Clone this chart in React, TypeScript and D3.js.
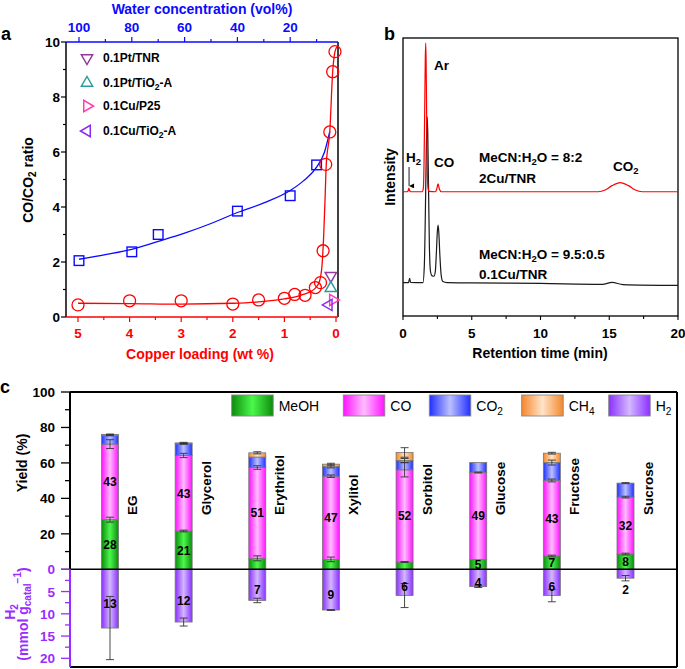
import React from 'react';
import * as d3 from 'd3';

const FONT = '"Liberation Sans", Arial, Helvetica, sans-serif';

// ---------- Panel a data ----------
const waterConc = [100, 80, 70, 40, 20, 10];
const waterRatio = [2.05, 2.37, 3.0, 3.85, 4.41, 5.53];
const waterFitX = [100, 90, 80, 70, 60, 50, 40, 30, 20, 15, 10, 7, 5];
const waterFitY = [2.1, 2.27, 2.46, 2.75, 3.05, 3.4, 3.8, 4.15, 4.6, 4.95, 5.45, 6.0, 6.75];
const copperLoad = [5, 4, 3, 2, 1.5, 1, 0.8, 0.6, 0.4, 0.3, 0.25, 0.2, 0.12, 0.065, 0.02];
const copperRatio = [0.44, 0.59, 0.59, 0.47, 0.62, 0.68, 0.82, 0.79, 1.07, 1.25, 2.41, 5.55, 6.73, 8.92, 9.65];
const copperFitX = [5, 4, 3, 2, 1.5, 1, 0.7, 0.5, 0.4, 0.32, 0.27, 0.24, 0.21, 0.19, 0.12, 0.065, 0.02, -0.02];
const copperFitY = [0.5, 0.49, 0.47, 0.5, 0.55, 0.66, 0.78, 0.92, 1.05, 1.3, 1.9, 2.9, 4.4, 5.5, 6.75, 8.9, 9.65, 9.83];
const refNames = ['0.1Pt/TNR', '0.1Pt/TiO2-A', '0.1Cu/P25', '0.1Cu/TiO2-A'];
const refLoad = [0.1, 0.1, 0.06, 0.14];
const refRatio = [1.5, 1.05, 0.62, 0.44];
const refColors = ['#94399c', '#2a9d9a', '#ff3cb4', '#8a2cf0'];
const refDirs = ['down', 'up', 'right', 'left'];

// ---------- Panel b data ----------
const redTime = [0, 0.3, 0.38, 0.43, 0.48, 0.56, 1.4, 1.48, 1.53, 1.58, 1.62, 1.65, 1.68, 1.72, 1.77, 1.82, 1.9, 2.35, 2.45, 2.55, 2.65, 2.78, 14.2, 14.7, 15.2, 15.8, 16.4, 16.9, 17.4, 20];
const redInt = [44.7, 44.7, 45.1, 46.0, 45.1, 44.7, 44.7, 46, 55, 75, 92, 98.2, 92, 72, 52, 46, 44.8, 44.7, 45.6, 47.5, 45.6, 44.7, 44.7, 45.3, 46.9, 48.0, 46.9, 45.3, 44.7, 44.7];
const blackTime = [0, 0.4, 0.48, 0.55, 1.45, 1.55, 1.62, 1.68, 1.73, 1.76, 1.8, 1.86, 1.92, 2.0, 2.1, 2.25, 2.35, 2.42, 2.5, 2.55, 2.6, 2.68, 2.78, 2.9, 3.2, 5, 10, 14.5, 15.2, 16.0, 20];
const blackInt = [12.0, 12.0, 13.5, 12.1, 12.0, 18, 35, 55, 68, 71.6, 66, 45, 25, 16, 14.5, 14.3, 16, 22, 30.5, 32.7, 30.5, 22, 14.5, 12.4, 12.0, 11.9, 11.7, 11.4, 12.1, 11.3, 11.0];

// ---------- Panel c data ----------
const categories = ['EG', 'Glycerol', 'Erythritol', 'Xylitol', 'Sorbitol', 'Glucose', 'Fructose', 'Sucrose'];
const meoh = [28, 21.6, 6.2, 5.6, 4.1, 5.6, 7.5, 8.6];
const co = [42.6, 42.6, 51.2, 46.9, 52, 49, 42.6, 32.1];
const co2 = [5.0, 6.6, 5.9, 5.5, 5.3, 5.6, 10.1, 7.9];
const ch4 = [0.4, 0.5, 2.4, 1.3, 4.5, 0, 5.3, 0];
const h2 = [13.2, 11.85, 7.0, 9.15, 5.9, 3.9, 5.9, 2.0];
const meohErr = [1.4, 0.5, 1.4, 1.3, 0.3, 0, 0.5, 0.5];
const coErr = [2.5, 1.2, 1.0, 0.7, 4.0, 0.3, 0.8, 0.5];
const co2Err = [0.3, 0.3, 0, 0.8, 1.1, 0, 1.4, 0.3];
const ch4Err = [0.3, 0.3, 0.6, 0.5, 2.7, 0, 0.5, 0];
const h2Err = [7.1, 0.9, 0.5, 0.1, 2.7, 0.2, 1.4, 0.6];
const meohLabels = ['28', '21', '', '', '', '5', '7', '8'];
const coLabels = ['43', '43', '51', '47', '52', '49', '43', '32'];
const h2Labels = ['13', '12', '7', '9', '6', '4', '6', '2'];
const legendNames = ['MeOH', 'CO', 'CO2', 'CH4', 'H2'];
const legendX = [231.7, 343.3, 429.3, 521.7, 608.7];

const gradColors: Record<string, [string, string]> = {
  meoh: ['#0c8c0c', '#4cf84c'],
  co: ['#ff14ff', '#ffbcff'],
  co2: ['#2030ff', '#bcc0ff'],
  ch4: ['#f5872c', '#ffe4c8'],
  h2: ['#8a30ff', '#d4b8ff'],
};
const gradKeys = ['meoh', 'co', 'co2', 'ch4', 'h2'];

function triPath(dir: string, cx: number, cy: number, r: number) {
  const a = 0.866 * r, b = 0.5 * r;
  let pts: [number, number][];
  if (dir === 'up') pts = [[0, -r], [a, b], [-a, b]];
  else if (dir === 'down') pts = [[0, r], [a, -b], [-a, -b]];
  else if (dir === 'right') pts = [[r, 0], [-b, a], [-b, -a]];
  else pts = [[-r, 0], [b, a], [b, -a]];
  return 'M' + pts.map(p => `${cx + p[0]},${cy + p[1]}`).join('L') + 'Z';
}

// Splits a label like "TiO2-A" / "CO2" / "CH4" into normal and subscript runs
function subRuns(t: string): { s: string; sub: boolean }[] {
  const runs: { s: string; sub: boolean }[] = [];
  const re = /([A-Za-z])(\d)(?![\d.:\/])/g;
  let last = 0; let m: RegExpExecArray | null;
  while ((m = re.exec(t)) !== null) {
    const idx = m.index + 1;
    runs.push({ s: t.slice(last, idx), sub: false });
    runs.push({ s: m[2], sub: true });
    last = idx + 1;
  }
  if (last < t.length) runs.push({ s: t.slice(last), sub: false });
  return runs;
}

function Sub({ t, shift }: { t: string; shift: number }) {
  const runs = subRuns(t);
  let prevSub = false;
  return (
    <>
      {runs.map((r, i) => {
        const dy = r.sub ? shift : prevSub ? -shift : 0;
        prevSub = r.sub;
        return (
          <tspan key={i} dy={dy || undefined} fontSize={r.sub ? '0.72em' : undefined}>{r.s}</tspan>
        );
      })}
    </>
  );
}

export default function App() {
  const W = 685, H = 669;

  // ---------- panel a scales ----------
  const aL = 66, aR = 338, aT = 42, aB = 317;
  const yA = d3.scaleLinear().domain([0, 10]).range([aB, aT]);
  const xCu = d3.scaleLinear().domain([5, 0]).range([78, 336]);
  const xW = d3.scaleLinear().domain([100, 0]).range([79, 343]);
  const blueLine = d3.line<number>().x((d, i) => xW(waterFitX[i])).y(d => yA(d)).curve(d3.curveMonotoneX)(waterFitY) || '';
  const redLine = d3.line<number>().x((d, i) => xCu(copperFitX[i])).y(d => yA(d)).curve(d3.curveMonotoneX)(copperFitY) || '';
  const BLUE = '#0a0aff', RED = '#ff0000';

  // ---------- panel b scales ----------
  const bL = 403, bR = 678, bT = 38, bB = 316;
  const xB = d3.scaleLinear().domain([0, 20]).range([bL, bR]);
  const yB = d3.scaleLinear().domain([0, 100]).range([bB, bT]);
  const redTrace = d3.line<number>().x((d, i) => xB(redTime[i])).y(d => yB(d)).curve(d3.curveMonotoneX)(redInt) || '';
  const blackTrace = d3.line<number>().x((d, i) => xB(blackTime[i])).y(d => yB(d)).curve(d3.curveMonotoneX)(blackInt) || '';

  // ---------- panel c scales ----------
  const cL = 70, cR = 677, cT = 392, cB = 667;
  const xC = d3.scalePoint<string>().domain(categories).range([110, 625.5]);
  const yC = d3.scaleLinear().domain([0, 100]).range([569.3, cT]);
  const yH = d3.scaleLinear().domain([0, 20]).range([569.3, 658.3]);
  const bw = 17;
  const PURPLE = '#9a2cff';

  const errBar = (key: string, x: number, y1: number, y2: number) => (
    <g key={key} stroke="#333" strokeWidth={0.9}>
      <line x1={x} x2={x} y1={y1} y2={y2} />
      <line x1={x - 4} x2={x + 4} y1={y1} y2={y1} />
      <line x1={x - 4} x2={x + 4} y1={y2} y2={y2} />
    </g>
  );

  const bold = { fontWeight: 'bold' as const };

  return (
    <svg width={W} height={H} style={{ position: 'absolute', left: 0, top: 0, fontFamily: FONT }}>
      <defs>
        {gradKeys.map(k => (
          <linearGradient key={k} id={'g-' + k} x1="0" x2="1" y1="0" y2="0">
            <stop offset="0" stopColor={gradColors[k][0]} />
            <stop offset="0.5" stopColor={gradColors[k][1]} />
            <stop offset="1" stopColor={gradColors[k][0]} />
          </linearGradient>
        ))}
        <marker id="arrowhead" viewBox="0 0 10 10" refX="5" refY="10" markerWidth="5" markerHeight="6" orient="auto-start-reverse" markerUnits="userSpaceOnUse">
          <path d="M0,0 L5,10 L10,0 Z" fill="#000" />
        </marker>
      </defs>
      <rect width={W} height={H} fill="#fff" />

      {/* ================= Panel a ================= */}
      <text x={1} y={40} fontSize={18} {...bold}>a</text>
      <text x={202} y={14} fontSize={14} fill={BLUE} textAnchor="middle" {...bold}>Water concentration (vol%)</text>
      <text x={200} y={359} fontSize={14} fill={RED} textAnchor="middle" {...bold}>Copper loading (wt %)</text>
      <text transform={`translate(33,180) rotate(-90)`} fontSize={14} textAnchor="middle" {...bold}>
        CO/CO<tspan fontSize={10} dy={3}>2</tspan><tspan dy={-3}> ratio</tspan>
      </text>
      {/* frame */}
      <line x1={aL} x2={aL} y1={aT} y2={aB} stroke="#000" strokeWidth={1.5} />
      <line x1={aR} x2={aR} y1={aT} y2={aB} stroke="#000" strokeWidth={1.5} />
      <line x1={aL} x2={aR} y1={aT} y2={aT} stroke={BLUE} strokeWidth={1.5} />
      <line x1={aL} x2={aR} y1={aB} y2={aB} stroke={RED} strokeWidth={1.5} />
      {/* left ticks */}
      {d3.range(0, 11).map(v => (
        <g key={'ly' + v}>
          <line x1={aL} x2={aL - (v % 2 === 0 ? 5 : 3)} y1={yA(v)} y2={yA(v)} stroke="#000" strokeWidth={1.2} />
          {v % 2 === 0 && <text x={60} y={yA(v) + 5} fontSize={13.5} textAnchor="end" {...bold}>{v}</text>}
        </g>
      ))}
      {/* bottom ticks */}
      {d3.range(0, 11).map(i => {
        const v = i / 2;
        const major = i % 2 === 0;
        return (
          <g key={'bx' + i}>
            <line x1={xCu(v)} x2={xCu(v)} y1={aB} y2={aB + (major ? 5 : 3)} stroke={RED} strokeWidth={1.2} />
            {major && <text x={xCu(v)} y={338} fontSize={13.5} textAnchor="middle" fill={RED} {...bold}>{v}</text>}
          </g>
        );
      })}
      {/* top ticks */}
      {d3.range(10, 101, 10).map(v => {
        const major = v % 20 === 0;
        return (
          <g key={'tx' + v}>
            <line x1={xW(v)} x2={xW(v)} y1={aT} y2={aT - (major ? 5 : 3)} stroke={BLUE} strokeWidth={1.2} />
            {major && <text x={xW(v)} y={31.5} fontSize={13.5} textAnchor="middle" fill={BLUE} {...bold}>{v}</text>}
          </g>
        );
      })}
      {/* curves */}
      <path d={blueLine} fill="none" stroke={BLUE} strokeWidth={1.3} />
      <path d={redLine} fill="none" stroke={RED} strokeWidth={1.3} />
      {waterConc.map((w, i) => (
        <rect key={'sq' + i} x={xW(w) - 4.8} y={yA(waterRatio[i]) - 4.8} width={9.6} height={9.6} fill="none" stroke={BLUE} strokeWidth={1.4} />
      ))}
      {copperLoad.map((c, i) => (
        <circle key={'ci' + i} cx={xCu(c)} cy={yA(copperRatio[i])} r={6} fill="none" stroke={RED} strokeWidth={1.3} />
      ))}
      {refNames.map((n, i) => (
        <path key={'ref' + i} d={triPath(refDirs[i], xCu(refLoad[i]), yA(refRatio[i]), 6.5)} fill="none" stroke={refColors[i]} strokeWidth={1.5} />
      ))}
      {/* legend a */}
      {refNames.map((n, i) => {
        const ly = [58, 83, 106, 131][i];
        return (
          <g key={'leg' + i}>
            <path d={triPath(refDirs[i], 87, ly, 6.5)} fill="none" stroke={refColors[i]} strokeWidth={1.5} />
            <text x={103} y={ly + 4} fontSize={12} {...bold}><Sub t={n} shift={3} /></text>
          </g>
        );
      })}

      {/* ================= Panel b ================= */}
      <text x={384} y={40} fontSize={18} {...bold}>b</text>
      <rect x={bL} y={bT} width={bR - bL} height={bB - bT} fill="none" stroke="#000" strokeWidth={1.3} />
      {d3.range(0, 21, 2.5).map(v => {
        const major = v % 5 === 0;
        return (
          <g key={'bt' + v}>
            <line x1={xB(v)} x2={xB(v)} y1={bB} y2={bB + (major ? 4 : 3)} stroke="#000" strokeWidth={1.1} />
            {major && <text x={xB(v)} y={338} fontSize={13.5} textAnchor="middle" {...bold}>{v}</text>}
          </g>
        );
      })}
      <text x={540} y={358} fontSize={14} textAnchor="middle" {...bold}>Retention time (min)</text>
      <text transform={`translate(395,177) rotate(-90)`} fontSize={14} textAnchor="middle" {...bold}>Intensity</text>
      <path d={blackTrace} fill="none" stroke="#1a1a1a" strokeWidth={1.2} />
      <path d={redTrace} fill="none" stroke={RED} strokeWidth={1.2} />
      <line x1={xB(0.44)} x2={xB(0.44)} y1={167} y2={yB(46.8)} stroke="#000" strokeWidth={0.9} markerEnd="url(#arrowhead)" />
      <text x={434} y={70} fontSize={13.5} {...bold}>Ar</text>
      <text x={406} y={162} fontSize={13.5} {...bold}>H<tspan fontSize={9.5} dy={3}>2</tspan></text>
      <text x={434} y={167} fontSize={13.5} {...bold}>CO</text>
      <text x={479} y={162} fontSize={13.5} {...bold}>MeCN:H<tspan fontSize={9.5} dy={3}>2</tspan><tspan dy={-3}>O = 8:2</tspan></text>
      <text x={479} y={183} fontSize={13.5} {...bold}>2Cu/TNR</text>
      <text x={613} y={171} fontSize={13.5} {...bold}>CO<tspan fontSize={9.5} dy={3}>2</tspan></text>
      <text x={479} y={259} fontSize={13.5} {...bold}>MeCN:H<tspan fontSize={9.5} dy={3}>2</tspan><tspan dy={-3}>O = 9.5:0.5</tspan></text>
      <text x={479} y={279} fontSize={13.5} {...bold}>0.1Cu/TNR</text>

      {/* ================= Panel c ================= */}
      <text x={0} y={393} fontSize={18} {...bold}>c</text>
      {/* bars */}
      {categories.map((c, i) => {
        const x = (xC(c) as number) - bw / 2;
        const cx = xC(c) as number;
        const s0 = meoh[i], s1 = s0 + co[i], s2 = s1 + co2[i], s3 = s2 + ch4[i];
        const segs = [
          { k: 'meoh', a: 0, b: s0 },
          { k: 'co', a: s0, b: s1 },
          { k: 'co2', a: s1, b: s2 },
          { k: 'ch4', a: s2, b: s3 },
        ];
        const h2LabelVal = h2[i] > 3 ? Math.min(h2[i] / 2 + 1, h2[i] * 0.75) : h2[i] + 2.6;
        return (
          <g key={'bar' + i}>
            {segs.filter(s => s.b - s.a > 0).map(s => (
              <rect key={s.k} x={x} y={yC(s.b)} width={bw} height={yC(s.a) - yC(s.b)} fill={`url(#g-${s.k})`} stroke="#777" strokeWidth={0.8} />
            ))}
            <rect x={x} y={yH(0)} width={bw} height={yH(h2[i]) - yH(0)} fill="url(#g-h2)" stroke="#777" strokeWidth={0.8} />
            {meohErr[i] > 0 && errBar('e0', cx, yC(s0 + meohErr[i]), yC(s0 - meohErr[i]))}
            {coErr[i] > 0 && errBar('e1', cx, yC(s1 + coErr[i]), yC(s1 - coErr[i]))}
            {co2Err[i] > 0 && errBar('e2', cx, yC(s2 + co2Err[i]), yC(s2 - co2Err[i]))}
            {ch4Err[i] > 0 && errBar('e3', cx, yC(s3 + ch4Err[i]), yC(s3 - ch4Err[i]))}
            {h2Err[i] > 0 && errBar('e4', cx, yH(h2[i] - h2Err[i]), yH(h2[i] + h2Err[i]))}
            {meohLabels[i] && <text x={cx} y={yC(s0 / 2) + 4.5} fontSize={12} textAnchor="middle" {...bold}>{meohLabels[i]}</text>}
            <text x={cx} y={yC((s0 + s1) / 2) + 4.5} fontSize={12} textAnchor="middle" {...bold}>{coLabels[i]}</text>
            <text x={cx} y={yH(h2LabelVal) + 4.5} fontSize={12} textAnchor="middle" {...bold}>{h2Labels[i]}</text>
            <text transform={`translate(${cx + 27},515) rotate(-90)`} fontSize={13.5} {...bold}>{c}</text>
          </g>
        );
      })}
      {/* zero line and frame */}
      <line x1={cL} x2={cR} y1={yC(0)} y2={yC(0)} stroke="#000" strokeWidth={1.5} />
      <line x1={cL} x2={cR} y1={cT} y2={cT} stroke="#000" strokeWidth={2} />
      <line x1={cR} x2={cR} y1={cT} y2={cB} stroke="#000" strokeWidth={2} />
      <line x1={cL} x2={cR} y1={cB} y2={cB} stroke="#000" strokeWidth={2} />
      <line x1={cL} x2={cL} y1={cT} y2={yC(0)} stroke="#000" strokeWidth={2} />
      <line x1={cL} x2={cL} y1={yC(0)} y2={cB} stroke={PURPLE} strokeWidth={2} />
      {d3.range(0, 101, 10).map(v => {
        const major = v % 20 === 0;
        return (
          <g key={'cy' + v}>
            <line x1={cL} x2={cL - (major ? 9 : 5)} y1={yC(v)} y2={yC(v)} stroke="#000" strokeWidth={1.3} />
            {major && v > 0 && <text x={55} y={yC(v) + 5} fontSize={13.5} textAnchor="end" {...bold}>{v}</text>}
          </g>
        );
      })}
      {d3.range(0, 21, 2.5).map(v => {
        const major = v % 5 === 0;
        return (
          <g key={'ch' + v}>
            <line x1={cL} x2={cL - (major ? 9 : 5)} y1={yH(v)} y2={yH(v)} stroke={PURPLE} strokeWidth={1.3} />
            {major && <text x={55} y={yH(v) + 5} fontSize={13.5} textAnchor="end" fill={PURPLE} {...bold}>{v}</text>}
          </g>
        );
      })}
      <text transform={`translate(27,463) rotate(-90)`} fontSize={14} textAnchor="middle" {...bold}>Yield (%)</text>
      <text transform={`translate(15,612) rotate(-90)`} fontSize={14} textAnchor="middle" fill={PURPLE} {...bold}>
        H<tspan fontSize={10} dy={3}>2</tspan>
      </text>
      <text transform={`translate(28,614) rotate(-90)`} fontSize={14} textAnchor="middle" fill={PURPLE} {...bold}>
        (mmol g<tspan fontSize={10} dy={3}>catal</tspan><tspan fontSize={10} dy={-10}>{'\u2212'}1</tspan><tspan dy={7}>)</tspan>
      </text>
      {/* legend c */}
      {legendNames.map((n, i) => (
        <g key={'lc' + i}>
          <rect x={legendX[i]} y={395} width={41.5} height={21} fill={`url(#g-${gradKeys[i]})`} stroke="#888" strokeWidth={0.9} />
          <text x={legendX[i] + 47} y={411} fontSize={14}><Sub t={n} shift={4} /></text>
        </g>
      ))}
    </svg>
  );
}
